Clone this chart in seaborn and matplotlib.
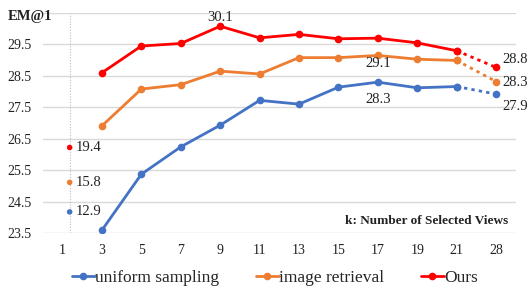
import numpy as np
import pandas as pd
import matplotlib
matplotlib.use("Agg")
import matplotlib.pyplot as plt
import seaborn as sns
from matplotlib.lines import Line2D

# ---- data ----
k_labels = ["1", "3", "5", "7", "9", "11", "13", "15", "17", "19", "21", "28"]
k_main = ["3", "5", "7", "9", "11", "13", "15", "17", "19", "21"]
uniform = [23.59, 25.37, 26.24, 26.93, 27.72, 27.60, 28.14, 28.30, 28.12, 28.16]
retrieval = [26.91, 28.08, 28.22, 28.65, 28.56, 29.08, 29.08, 29.15, 29.03, 28.99]
ours = [28.60, 29.45, 29.53, 30.08, 29.71, 29.82, 29.68, 29.70, 29.55, 29.30]
k28 = [27.92, 28.32, 28.77]            # uniform, retrieval, ours at k=28
k1_actual = [12.9, 15.8, 19.4]          # real values at k=1 (axis broken)
k1_display = [24.17, 25.11, 26.22]      # where they are drawn
series = ["uniform sampling", "image retrieval", "Ours"]
colors = ["#4472C4", "#ED7D31", "#FF0000"]
yticks = [23.5, 24.5, 25.5, 26.5, 27.5, 28.5, 29.5, 30.5]

sns.set_theme(style="white")
plt.rcParams["font.family"] = ["Liberation Serif", "DejaVu Serif"]

pos = {k: i for i, k in enumerate(k_labels)}
rows = []
for name, vals in zip(series, [uniform, retrieval, ours]):
    for k, v in zip(k_main, vals):
        rows.append({"x": pos[k], "v": v, "s": name})
df = pd.DataFrame(rows)
rows2 = []
for name, vals, v28 in zip(series, [uniform, retrieval, ours], k28):
    rows2.append({"x": pos["21"], "v": vals[-1], "s": name})
    rows2.append({"x": pos["28"], "v": v28, "s": name})
df2 = pd.DataFrame(rows2)
df1 = pd.DataFrame({"x": [pos["1"] + 0.18] * 3, "v": k1_display, "s": series})

fig = plt.figure(figsize=(5.29, 2.96), dpi=100)
ax = fig.add_axes([0.081, 0.213, 0.894, 0.743])

pal = dict(zip(series, colors))
sns.lineplot(data=df, x="x", y="v", hue="s", palette=pal, marker="o",
             markersize=5.5, markeredgewidth=0, linewidth=2.0, ax=ax,
             legend=False, zorder=3)
sns.lineplot(data=df2, x="x", y="v", hue="s", palette=pal, marker="o",
             markersize=5.5, markeredgewidth=0, linewidth=2.0, ax=ax,
             legend=False, linestyle=(0, (1.2, 1.5)), zorder=3)
sns.scatterplot(data=df1, x="x", y="v", hue="s", palette=pal, s=16,
                linewidth=0, ax=ax, legend=False, zorder=3)

ax.axvline(pos["1"] + 0.18, ymin=0, ymax=1, color="#BBBBBB", lw=0.8,
           ls=(0, (1, 1.5)), zorder=1)

ax.set_xlim(-0.5, len(k_labels) - 0.5)
ax.set_ylim(yticks[0], yticks[-1])
ax.set_xticks(range(len(k_labels)))
ax.set_xticklabels(k_labels)
ax.set_yticks(yticks)
ax.set_yticklabels([f"{t:.1f}" for t in yticks[:-1]] + [""])
ax.grid(axis="y", color="#D9D9D9", lw=1.0)
ax.grid(axis="x", visible=False)
for sp in ax.spines.values():
    sp.set_visible(False)
ax.tick_params(axis="both", length=0, labelsize=10, colors="#222222", pad=8)
ax.set_xlabel("")
ax.set_ylabel("")

fs = 10.5
# annotations
ax.text(pos["9"], ours[3] + 0.27, f"{30.1:.1f}", ha="center", va="center", fontsize=fs, color="#222")
ax.text(pos["17"], retrieval[7] - 0.27, f"{29.1:.1f}", ha="center", va="center", fontsize=fs, color="#222")
ax.text(pos["17"], uniform[7] - 0.55, f"{28.3:.1f}", ha="center", va="center", fontsize=fs, color="#222")
lab28 = [27.9, 28.3, 28.8]
offs = [-0.41, -0.03, 0.24]
for v, lab, o in zip(k28, lab28, offs):
    ax.text(pos["28"] + 0.15, v + o, f"{lab:.1f}", ha="left", va="center", fontsize=fs, color="#222")
for v, lab in zip(k1_display, k1_actual):
    ax.text(pos["1"] + 0.33, v, f"{lab:.1f}", ha="left", va="center", fontsize=fs, color="#222")

fig.text(0.015, 0.945, "EM@1", ha="left", va="center", fontsize=10.5,
         fontweight="bold", color="#222")
ax.text(0.985, 0.055, "k: Number of Selected Views", transform=ax.transAxes,
        ha="right", va="center", fontsize=9.5, fontweight="bold", color="#222")

handles = [Line2D([0], [0], color=c, lw=2.0, marker="o", markersize=5.5,
                  markeredgewidth=0) for c in colors]
fig.legend(handles, series, loc="center", bbox_to_anchor=(0.52, 0.062),
           ncol=3, frameon=False, fontsize=12.5, handlelength=1.3,
           handletextpad=0.05, columnspacing=2.1)

fig.savefig("out.png", dpi=100)
